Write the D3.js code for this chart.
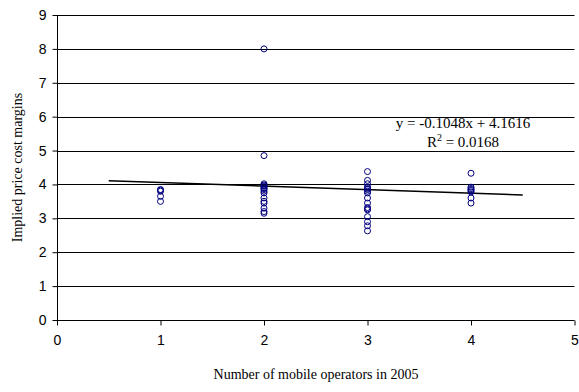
<!DOCTYPE html>
<html>
<head>
<meta charset="utf-8">
<script src="https://cdn.jsdelivr.net/npm/d3@7"></script>
<style>
  body { margin: 0; background: #fff; }
  svg { display: block; font-family: "Liberation Serif", "Times New Roman", serif; }
  .tick text { font-size: 14px; fill: #000; }
  .axis-title { font-size: 14px; fill: #000; }
  .eq { font-size: 15px; fill: #000; }
</style>
</head>
<body>
<div id="chart"></div>
<script>
const W= 579, H= 392;
const MAR= { top: 15, right: 4, bottom: 72, left: 57 };

// operators count and implied price-cost margin per country
const ops1= [3.85, 3.83, 3.8, 3.65, 3.5];
const ops2= [8.0, 4.85, 4.02, 3.98, 3.95, 3.9, 3.88, 3.85, 3.8, 3.75, 3.6, 3.5, 3.45, 3.3, 3.2, 3.15];
const ops3= [4.38, 4.12, 4.02, 3.92, 3.88, 3.85, 3.8, 3.75, 3.6, 3.45, 3.32, 3.28, 3.25, 3.05, 2.9, 2.78, 2.63];
const ops4= [4.33, 3.92, 3.88, 3.85, 3.82, 3.78, 3.6, 3.45];

const xTicks= [0, 1, 2, 3, 4, 5];
const yTicks= [0, 1, 2, 3, 4, 5, 6, 7, 8, 9];
const slope= -0.1048, intercept= 4.1616;
const fitRange= [0.5, 4.5];

const points= [
  ...ops1.map(v => ({ x: 1, y: v })),
  ...ops2.map(v => ({ x: 2, y: v })),
  ...ops3.map(v => ({ x: 3, y: v })),
  ...ops4.map(v => ({ x: 4, y: v })),
];

const iW= W-MAR.left-MAR.right;
const iH= H-MAR.top-MAR.bottom;

const svg= d3.select('#chart').append('svg')
  .attr('width', W).attr('height', H);

const xSc= d3.scaleLinear().domain([0, 5]).range([0, iW - 0.5]);
const ySc= d3.scaleLinear().domain([0, 9]).range([iH, 0]);

const g= svg.append('g').attr('transform', `translate(${MAR.left},${MAR.top})`);

// horizontal gridlines
g.selectAll('.grid').data(yTicks.filter(d => d > 0)).join('line')
  .attr('x1', 0).attr('x2', xSc(5))
  .attr('y1', d => Math.round(ySc(d))+0.5).attr('y2', d => Math.round(ySc(d))+0.5)
  .attr('stroke', '#000').attr('stroke-width', 1);

// axes
g.append('g')
  .attr('transform', `translate(0,${Math.round(iH)+0.5})`)
  .call(d3.axisBottom(xSc).tickValues(xTicks).tickSize(5).tickPadding(10).tickFormat(d3.format('d')))
  .call(a => a.select('.domain').attr('stroke', '#000').attr('d', `M0,0H${xSc(5)}`));

g.append('g')
  .attr('transform', 'translate(0.5,0)')
  .call(d3.axisLeft(ySc).tickValues(yTicks).tickSize(5).tickPadding(6).tickFormat(d3.format('d')))
  .call(a => a.select('.domain').attr('stroke', '#000').attr('d', `M0,${iH}V0`));

// trend line
g.append('line')
  .attr('x1', xSc(fitRange[0])).attr('y1', ySc(slope*fitRange[0]+intercept))
  .attr('x2', xSc(fitRange[1])).attr('y2', ySc(slope*fitRange[1]+intercept))
  .attr('stroke', '#000').attr('stroke-width', 1.4);

// points
g.selectAll('.pt').data(points).join('circle')
  .attr('cx', d => xSc(d.x))
  .attr('cy', d => ySc(d.y))
  .attr('r', 3)
  .attr('fill', 'none')
  .attr('stroke', '#000080')
  .attr('stroke-width', 1);

// equation
const eqX= 463-MAR.left;
g.append('text').attr('class', 'eq')
  .attr('x', eqX).attr('y', 128-MAR.top)
  .attr('text-anchor', 'middle')
  .text('y = -0.1048x + 4.1616');
const r2= g.append('text').attr('class', 'eq')
  .attr('x', eqX).attr('y', 147-MAR.top)
  .attr('text-anchor', 'middle');
r2.append('tspan').text('R');
r2.append('tspan').attr('dy', -6).attr('font-size', 10).text('2');
r2.append('tspan').attr('dy', 6).text(' = 0.0168');

// axis titles
svg.append('text').attr('class', 'axis-title')
  .attr('x', MAR.left+iW/2).attr('y', 379)
  .attr('text-anchor', 'middle')
  .text('Number of mobile operators in 2005');

svg.append('text').attr('class', 'axis-title')
  .attr('transform', `translate(22,${MAR.top+iH/2}) rotate(-90)`)
  .attr('text-anchor', 'middle')
  .text('Implied price cost margins');
</script>
</body>
</html>
